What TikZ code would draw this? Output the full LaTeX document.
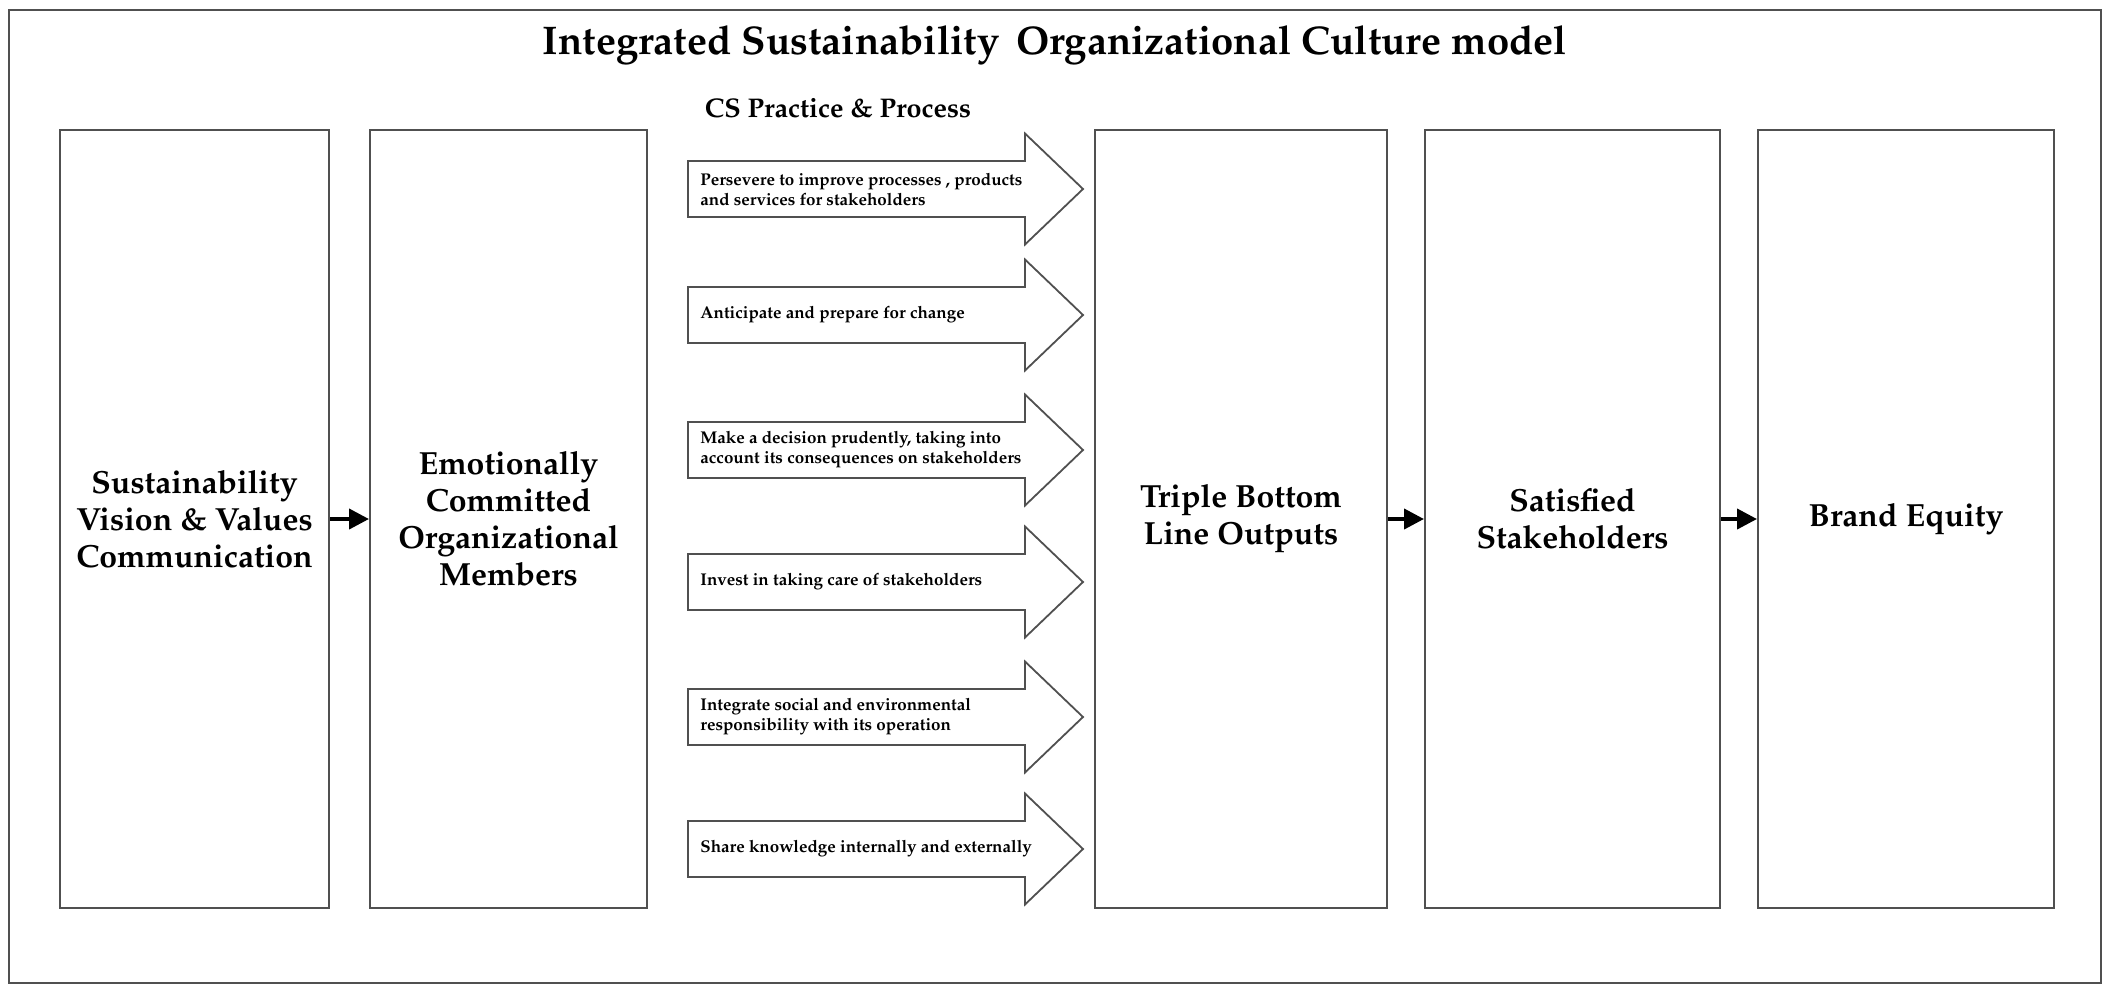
\documentclass[tikz,border=0pt]{standalone}
\usepackage[T1]{fontenc}
\usepackage{mathpazo}
\usetikzlibrary{arrows.meta}
\usetikzlibrary{positioning}

\definecolor{linegray}{RGB}{80,80,80}

\tikzset{
  block/.style={draw=linegray, line width=1pt, minimum height=389pt, align=center,
    font=\fontsize{16}{18.5}\selectfont\bfseries},
  flow/.style={-{Triangle[length=10pt,width=10pt]}, line width=2pt, black},
  practice/.style={draw=linegray, line width=0.9pt, fill=white},
  practicetext/.style={anchor=west, align=left, inner sep=0pt,
    font=\fontsize{8.5}{10}\selectfont\bfseries}
}

% one CS practice arrow: name, centre y, text
\newcommand{\csarrow}[3]{%
  \draw[practice] (688,#2-28) -- (1025,#2-28) -- (1025,#2-55.5) -- (1083,#2)
    -- (1025,#2+55.5) -- (1025,#2+28) -- (688,#2+28) -- cycle;
  \node[practicetext] (#1) at (700,#2) {#3};
}

\begin{document}
\begin{tikzpicture}[x=0.5pt, y=-0.5pt]
  \useasboundingbox (0,0) rectangle (2111,992);
  \draw[linegray, line width=1pt] (9,10) rectangle (2101,983);

  \node[font=\fontsize{20}{23}\selectfont\bfseries] (title) at (1055,45)
    {Integrated Sustainability\, Organizational Culture model};
  \node[font=\fontsize{13.5}{16}\selectfont\bfseries] (cshead) at (838,108)
    {CS Practice \& Process};

  % the five blocks
  \node[block, minimum width=134.5pt] (vision) at (194.5,519)
    {Sustainability\\Vision \& Values\\Communication};
  \node[block, minimum width=138.5pt, right=19.5pt of vision] (members)
    {Emotionally\\Committed\\Organizational\\Members};
  \node[block, minimum width=146pt] (tbl) at (1241,519)
    {Triple Bottom\\Line Outputs};
  \node[block, minimum width=147.5pt, right=18pt of tbl] (stake)
    {Satisfied\\Stakeholders};
  \node[block, minimum width=148pt, right=18pt of stake] (brand)
    {Brand Equity};

  % practices
  \csarrow{persevere}{189}{Persevere to improve processes , products\\and services for stakeholders}
  \csarrow{anticipate}{315}{Anticipate and prepare for change}
  \csarrow{decide}{450}{Make a decision prudently, taking into\\account its consequences on stakeholders}
  \csarrow{invest}{582}{Invest in taking care of stakeholders}
  \csarrow{integrate}{717}{Integrate social and environmental\\responsibility with its operation}
  \csarrow{share}{849}{Share knowledge internally and externally}

  \draw[flow] (vision) -- (members);
  \draw[flow] (tbl) -- (stake);
  \draw[flow] (stake) -- (brand);
\end{tikzpicture}
\end{document}
